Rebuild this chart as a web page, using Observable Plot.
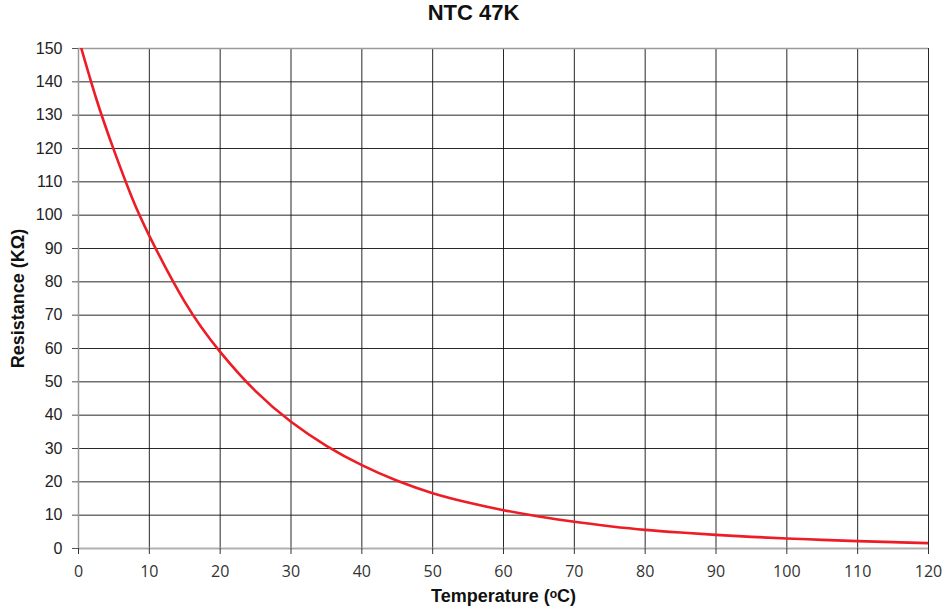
<!DOCTYPE html>
<html>
<head>
<meta charset="utf-8">
<script src="https://cdn.jsdelivr.net/npm/d3@7"></script>
<script src="https://cdn.jsdelivr.net/npm/@observablehq/plot@0.6"></script>
<style>
  html, body { margin: 0; padding: 0; background: #fff; }
  #title { height: 36px; line-height: 32px; text-align: center; font: bold 22px "Liberation Sans", Arial, sans-serif; color: #111; }
</style>
</head>
<body>
<div id="title">NTC 47K</div>
<div id="chart"></div>
<script>
// Temperature (°C)
const temperature = [0, 2.5, 5, 7.5, 10, 15, 20, 25, 30, 35, 40, 45, 50, 55, 60, 65, 70, 75, 80, 85, 90, 95, 100, 105, 110, 115, 120];
// Resistance (kΩ)
const resistance = [153, 135, 119.5, 105.5, 93.8, 74, 59, 47.2, 38, 30.8, 25, 20.3, 16.6, 13.8, 11.5, 9.6, 8.0, 6.7, 5.6, 4.8, 4.1, 3.5, 3.0, 2.6, 2.2, 1.9, 1.6];
const xTicks = [0, 10, 20, 30, 40, 50, 60, 70, 80, 90, 100, 110, 120];
const yTicks = [0, 10, 20, 30, 40, 50, 60, 70, 80, 90, 100, 110, 120, 130, 140, 150];

const data = temperature.map((t, i) => ({t, r: resistance[i]}));

const chart = Plot.plot({
  width: 947,
  height: 578,
  marginTop: 12,
  marginBottom: 66,
  marginLeft: 78,
  marginRight: 19,
  style: {background: "#fff", overflow: "visible"},
  x: {domain: [0, 120]},
  y: {domain: [0, 150]},
  marks: [
    Plot.gridX(xTicks, {stroke: "#111", strokeOpacity: 0.9, strokeWidth: 1}),
    Plot.gridY(yTicks, {stroke: "#111", strokeOpacity: 0.9, strokeWidth: 1}),
    Plot.ruleX([0], {stroke: "#9a9a9a", strokeWidth: 1.5}),
    Plot.ruleY([150], {stroke: "#9a9a9a", strokeWidth: 1.5}),
    Plot.ruleY([0], {stroke: "#b0b0b0", strokeWidth: 2}),
    Plot.axisY(yTicks, {
      tickSize: 6, tickPadding: 10, stroke: "#555",
      fontSize: 16, fontFamily: "'Liberation Sans', Arial, sans-serif", fill: "#222",
      label: null
    }),
    Plot.axisX(xTicks, {
      tickSize: 6, tickPadding: 11, stroke: "#333",
      fontSize: 16, fontFamily: "'Open Sans', sans-serif", fill: "#333",
      label: null
    }),
    Plot.line(data, {x: "t", y: "r", stroke: "#ee1c25", strokeWidth: 2.6, curve: "natural", clip: true}),
    Plot.text(["Resistance (KΩ)"], {
      frameAnchor: "left", textAnchor: "middle", dx: -60, rotate: -90,
      fontSize: 18, fontWeight: "bold", fontFamily: "'Liberation Sans', Arial, sans-serif", fill: "#111"
    }),
    Plot.text(["Temperature (ᵒC)"], {
      frameAnchor: "bottom", textAnchor: "middle", lineAnchor: "middle", dy: 48,
      fontSize: 18, fontWeight: "bold", fontFamily: "'Liberation Sans', Arial, sans-serif", fill: "#111"
    })
  ]
});
document.getElementById("chart").appendChild(chart);
</script>
</body>
</html>
